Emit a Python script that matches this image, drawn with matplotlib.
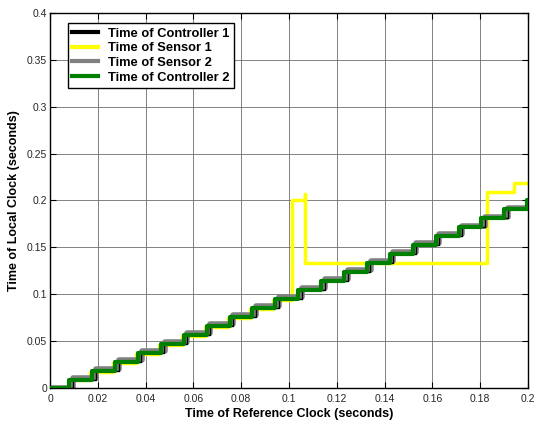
import matplotlib
matplotlib.use('Agg')
import matplotlib.pyplot as plt

plt.rcParams['font.family'] = ['Liberation Sans', 'DejaVu Sans']

# step times / levels (seconds)
ctrl1_t = [0, 0.0095, 0.0191, 0.0287, 0.0382, 0.0478, 0.0574, 0.0670, 0.0766, 0.0861, 0.0957,
           0.1053, 0.1149, 0.1245, 0.1340, 0.1436, 0.1532, 0.1628, 0.1724, 0.1819, 0.1915, 0.2]
ctrl1_y = [0, 0.0085, 0.0182, 0.0278, 0.0374, 0.0470, 0.0566, 0.0662, 0.0757, 0.0853, 0.0949,
           0.1045, 0.1141, 0.1236, 0.1332, 0.1428, 0.1524, 0.1620, 0.1715, 0.1811, 0.1907, 0.1907]

sens1_t = [0, 0.0081, 0.0168, 0.0264, 0.0359, 0.0455, 0.0551, 0.0647, 0.0743, 0.0838, 0.0934,
           0.1011, 0.1067, 0.1067, 0.1827, 0.1941, 0.2]
sens1_y = [0, 0.0085, 0.0174, 0.0270, 0.0366, 0.0462, 0.0558, 0.0654, 0.0749, 0.0845, 0.0941,
           0.2010, 0.2070, 0.1330, 0.2087, 0.2190, 0.2190]

sens2_t = [0, 0.0096, 0.0192, 0.0288, 0.0383, 0.0479, 0.0575, 0.0671, 0.0767, 0.0862, 0.0958,
           0.1054, 0.1150, 0.1246, 0.1341, 0.1437, 0.1533, 0.1629, 0.1725, 0.1820, 0.1916, 0.2]
sens2_y = [0, 0.0103, 0.0200, 0.0296, 0.0392, 0.0488, 0.0584, 0.0680, 0.0775, 0.0871, 0.0967,
           0.1063, 0.1159, 0.1254, 0.1350, 0.1446, 0.1542, 0.1638, 0.1733, 0.1829, 0.1925, 0.1925]

ctrl2_t = [0, 0.0081, 0.0177, 0.0273, 0.0368, 0.0464, 0.0560, 0.0656, 0.0752, 0.0847, 0.0943,
           0.1039, 0.1135, 0.1231, 0.1326, 0.1422, 0.1518, 0.1614, 0.1710, 0.1805, 0.1901, 0.1997, 0.2]
ctrl2_y = [0, 0.0085, 0.0182, 0.0278, 0.0374, 0.0470, 0.0566, 0.0662, 0.0757, 0.0853, 0.0949,
           0.1045, 0.1141, 0.1236, 0.1332, 0.1428, 0.1524, 0.1620, 0.1715, 0.1811, 0.1907, 0.2003, 0.2003]

labels = ['Time of Controller 1', 'Time of Sensor 1', 'Time of Sensor 2', 'Time of Controller 2']

fig = plt.figure(figsize=(5.35, 4.22), dpi=100)
ax = fig.add_axes([0.0935, 0.0806, 0.8935, 0.8886])

h2, = ax.step(sens1_t, sens1_y, where='post', color='#ffff00', lw=2.5, zorder=2)
h3, = ax.step(sens2_t, sens2_y, where='post', color='#808080', lw=4, zorder=2.5)
h1, = ax.step(ctrl1_t, ctrl1_y, where='post', color='black', lw=1, zorder=3)
h4, = ax.step(ctrl2_t, ctrl2_y, where='post', color='#008000', lw=3, zorder=4)

ax.set_xlim(0, 0.2)
ax.set_ylim(0, 0.4)
ax.set_xticks([0, 0.02, 0.04, 0.06, 0.08, 0.1, 0.12, 0.14, 0.16, 0.18, 0.2])
ax.set_xticklabels(['0', '0.02', '0.04', '0.06', '0.08', '0.1', '0.12', '0.14', '0.16', '0.18', '0.2'])
ax.set_yticks([0, 0.05, 0.1, 0.15, 0.2, 0.25, 0.3, 0.35, 0.4])
ax.set_yticklabels(['0', '0.05', '0.1', '0.15', '0.2', '0.25', '0.3', '0.35', '0.4'])
ax.grid(True, color='#6e6e6e', lw=0.6, ls='-')
ax.set_axisbelow(True)
ax.tick_params(direction='in', top=True, right=True, length=4, width=0.8,
               labelsize=7.5, labelcolor='#262626')
ax.tick_params(axis='x', pad=4)
ax.tick_params(axis='y', pad=2)
for s in ax.spines.values():
    s.set_linewidth(1.0)

ax.set_xlabel('Time of Reference Clock (seconds)', fontsize=9, fontweight='bold', labelpad=3)
ax.set_ylabel('Time of Local Clock (seconds)', fontsize=9, fontweight='bold', labelpad=5)

leg = ax.legend([h1, h2, h3, h4], labels, loc='upper left', bbox_to_anchor=(0.037, 0.973),
                prop={'size': 9.3, 'weight': 'bold'}, fancybox=False, framealpha=1,
                edgecolor='black', handlelength=2.0, borderpad=0.35, labelspacing=0.2,
                handletextpad=0.75, borderaxespad=0)
leg.get_frame().set_linewidth(1.0)
for line in leg.get_lines():
    line.set_linewidth(3)

fig.savefig('out.png', dpi=100)
